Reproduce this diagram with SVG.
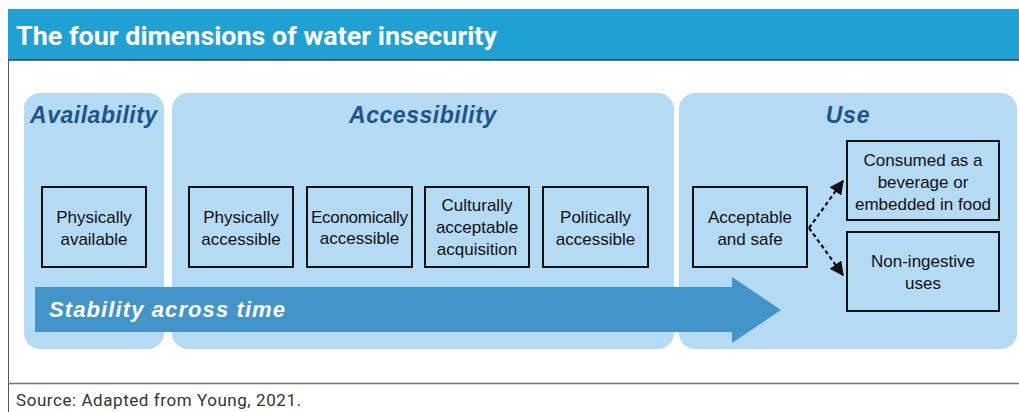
<svg xmlns="http://www.w3.org/2000/svg" width="1019" height="412" viewBox="0 0 1019 412">
<style>
.panel{fill:#b5daf3}
.box{fill:none;stroke:#111;stroke-width:2}
.lbl{font-family:"Liberation Sans",Arial,sans-serif;font-size:17px;fill:#111;text-anchor:middle}
.hd{font-family:"Liberation Sans",Arial,sans-serif;font-size:23px;font-weight:bold;font-style:italic;fill:#1b5788;text-anchor:middle;letter-spacing:0.8px}
.conn{stroke:#111;stroke-width:2.2;stroke-dasharray:4 3;fill:none}
</style>
<defs>
<marker id="ah" viewBox="0 0 10 10" refX="9" refY="5" markerWidth="6.5" markerHeight="6.5" orient="auto" markerUnits="strokeWidth">
<path d="M0,0 L10,5 L0,10 z" fill="#111"/>
</marker>
</defs>
<rect x="0" y="0" width="1019" height="412" fill="#fff"/>
<g id="header">
<rect x="8" y="9" width="1011" height="51" fill="#1fa1d3"/>
<line x1="8" y1="60" x2="1019" y2="60" stroke="#2b4756" stroke-width="1.5"/>
<text x="16" y="45" font-family="Roboto,'Liberation Sans',sans-serif" font-size="25" font-weight="bold" fill="#fff" textLength="481" lengthAdjust="spacingAndGlyphs">The four dimensions of water insecurity</text>
</g>
<g id="frame">
<line x1="8.5" y1="60" x2="8.5" y2="412" stroke="#555" stroke-width="1"/>
<line x1="8" y1="383.5" x2="1019" y2="383.5" stroke="#777" stroke-width="1.5"/>
</g>
<g id="availability">
<rect class="panel" x="24" y="93" width="140" height="256" rx="16"/>
<text class="hd" x="94" y="123" textLength="128">Availability</text>
</g>
<g id="accessibility">
<rect class="panel" x="172" y="93" width="502" height="256" rx="16"/>
<text class="hd" x="423" y="123" textLength="148">Accessibility</text>
</g>
<g id="use">
<rect class="panel" x="679" y="93" width="338" height="256" rx="16"/>
<text class="hd" x="848" y="123">Use</text>
</g>
<g id="stability">
<path d="M35,287 H732 V277 L781,310 L732,343 V332 H35 Z" fill="#4394c8"/>
<text x="49" y="317" font-family="'Liberation Sans',Arial,sans-serif" font-size="22" font-weight="bold" font-style="italic" fill="#fff" textLength="236">Stability across time</text>
</g>
<g id="physically-available">
<rect class="box" x="42" y="187" width="104" height="80"/>
<text class="lbl" x="94" y="223">Physically</text>
<text class="lbl" x="94" y="245">available</text>
</g>
<g id="physically-accessible">
<rect class="box" x="189" y="187" width="104" height="80"/>
<text class="lbl" x="241" y="223">Physically</text>
<text class="lbl" x="241" y="245">accessible</text>
</g>
<g id="economically-accessible">
<rect class="box" x="307" y="187" width="105" height="80"/>
<text class="lbl" x="359.5" y="223" textLength="97">Economically</text>
<text class="lbl" x="359.5" y="244">accessible</text>
</g>
<g id="culturally">
<rect class="box" x="425" y="187" width="104" height="80"/>
<text class="lbl" x="477" y="211">Culturally</text>
<text class="lbl" x="477" y="233">acceptable</text>
<text class="lbl" x="477" y="255">acquisition</text>
</g>
<g id="politically">
<rect class="box" x="543" y="187" width="105" height="80"/>
<text class="lbl" x="595.5" y="223">Politically</text>
<text class="lbl" x="595.5" y="245">accessible</text>
</g>
<g id="acceptable-safe">
<rect class="box" x="693" y="187" width="114" height="80"/>
<text class="lbl" x="750" y="223">Acceptable</text>
<text class="lbl" x="750" y="245">and safe</text>
</g>
<g id="consumed">
<rect class="box" x="847" y="141" width="152" height="79"/>
<text class="lbl" x="923" y="166">Consumed as a</text>
<text class="lbl" x="923" y="188">beverage or</text>
<text class="lbl" x="923" y="210">embedded in food</text>
</g>
<g id="non-ingestive">
<rect class="box" x="847" y="232" width="152" height="79"/>
<text class="lbl" x="923" y="267">Non-ingestive</text>
<text class="lbl" x="923" y="289">uses</text>
</g>
<g id="connectors">
<line class="conn" x1="809" y1="228" x2="843" y2="181" marker-end="url(#ah)"/>
<line class="conn" x1="809" y1="228" x2="843" y2="275" marker-end="url(#ah)"/>
</g>
<g id="source">
<text x="16" y="406" font-family="Roboto,'Liberation Sans',sans-serif" font-size="17" fill="#333" textLength="285">Source: Adapted from Young, 2021.</text>
</g>
</svg>
